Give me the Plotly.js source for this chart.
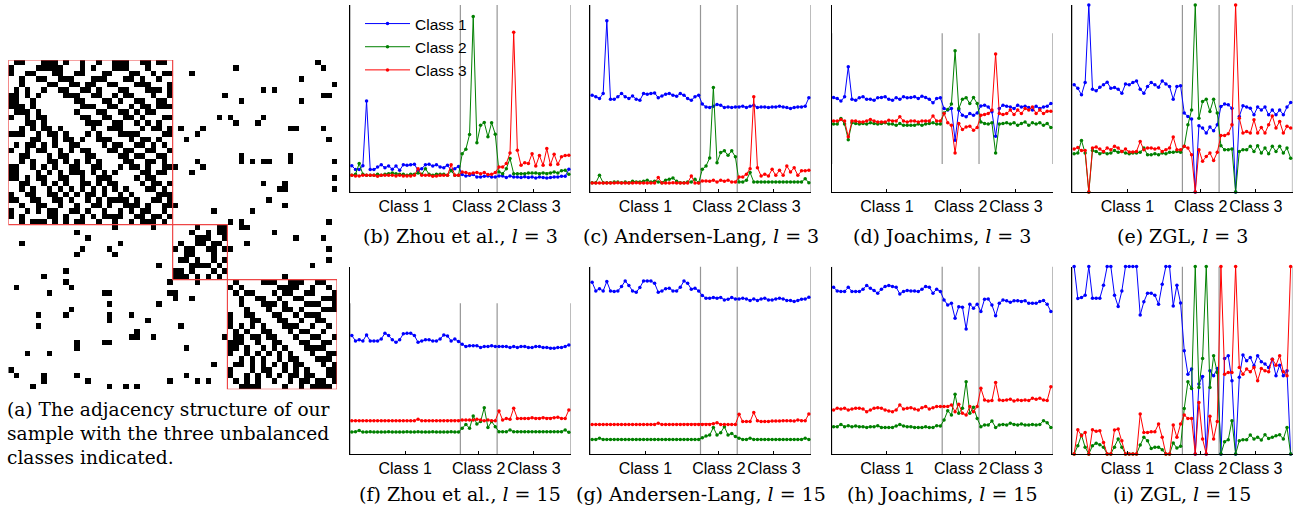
<!DOCTYPE html>
<html><head><meta charset="utf-8">
<script src="https://cdn.plot.ly/plotly-3.0.1.min.js"></script>
<style>html,body{margin:0;padding:0;background:#fff}#chart{width:1293px;height:506px}</style>
</head><body><div id="chart"></div>
<script>
// ---------------- data ----------------
const nodes = [1,2,3,4,5,6,7,8,9,10,11,12,13,14,15,16,17,18,19,20,21,22,23,24,25,26,27,28,29,30,
 31,32,33,34,35,36,37,38,39,40,41,42,43,44,45,46,47,48,49,50,51,52,53,54,55,56,57,58,59,60];
const classCenters = [15.5, 35.5, 50.5];
const classLabels = ['Class 1', 'Class 2', 'Class 3'];
const classBounds = [0.5, 30.5, 40.5, 60.5];
const seriesNames = ['Class 1', 'Class 2', 'Class 3'];

// (b) Zhou et al., l = 3
const zhouL3_class1 = [14,12,12,14,48.6,12,12,13.4,14.6,13,13.9,12.1,13.9,11.6,14.6,14.3,14.6,14.8,11.6,12.5,14.6,14.8,13.9,14.6,13.4,13,14.3,11.6,12.5,13.6, 9.3,8.6,8.9,9.3,8,8,8.4,8.6,8,8, 8.6,8.6,7.7,8.6,8,8,7.7,8.2,7.7,8,7.5,8,7.7,7.5,7.7,8,8,8.4,8.4,12.1];
const zhouL3_class2 = [8.9,9.5,15.2,9.5,8.9,8.9,8.9,9.5,8.9,9.5,9.8,10.2,9.8,9.5,9.5,8.9,9.5,9.5,10.2,9.5,12.5,9.5,8.9,9.5,9.5,9.5,8.9,11.3,8.9,8.9, 20.5,22.9,30.7,93.8,26.4,35.7,37.1,29.5,37,30.9, 10.7,9.8,12.5,17.9,9.8,9.8,9.8,9.8,10.2,10.2,10.2,9.8,10.2,9.8,10.2,10.7,10.2,11.3,11.6,9.5];
const zhouL3_class3 = [8.9,8.6,8.6,8.9,8.9,8.9,8.9,8.4,8.9,8.9,8.9,8.9,8.6,8.9,8.6,8.6,8.6,8.9,12.5,8.9,8.9,8.9,8.4,8.6,8.9,8.9,8.9,14.6,8.9,8.9, 10.7,10.4,9.8,10.2,10.4,9.8,10.4,9.3,9.5,10.4, 13.4,13.4,15.2,20.9,85.4,22.3,14.3,15.7,15.2,20.5,13.9,19.5,14.3,23.2,14.6,20.2,14.8,18.8,19.5,19.6];
// (c) Andersen-Lang, l = 3
const alL3_class1 = [51.8,50.9,50,52.7,91.6,49.6,49.6,50.9,52.7,50.9,50,51.4,49.6,49.1,52.7,52.3,52.7,53,50.4,51.4,52.3,52.7,51.8,51.2,52.7,51.8,50,49.1,50.9,51.8, 47,45.5,45.2,45.9,46.8,46.4,45.2,45.5,45.2,45.5, 45.5,45.9,45.2,45.9,46.4,45.2,45.5,45.5,45.2,45.5,45.5,45.9,45.5,45.2,44.6,45.2,45.5,45.5,45.9,50.4];
const alL3_class2 = [5,5,8.9,5,5,5,5.4,5.4,5,5.4,5,5.7,5.4,5.4,5.7,6.3,5.4,5.7,5.4,5,6.3,6.8,7.5,5.7,5,5,5.4,5.4,6.8,5, 12.1,13.9,18.2,55.9,15.7,21.1,22,19.6,22,18.8, 5.4,5.4,6.3,10.4,5.4,5.4,5.4,5.4,5.4,5.4,5.4,5.4,5.4,5.4,5.4,5.4,5.4,5.4,7.1,5];
const alL3_class3 = [4.8,4.8,4.8,4.8,4.8,4.8,4.8,5,4.8,4.8,4.8,4.8,5,4.8,4.8,4.8,4.8,4.8,7.7,4.8,4.8,4.8,5,4.8,4.8,4.8,4.8,8.6,4.8,4.8, 5.9,5.9,5.7,6.3,5.4,6.3,5.7,6.3,5.4,5.4, 8,8,9.5,12.5,50.9,13,8.6,9.5,8.6,12.1,8.9,11.6,8.9,13.9,10.7,13,8.9,11.3,11.3,11.6];
// (d) Joachims, l = 3
const joaL3_class1 = [50.5,50,48.6,50.9,67,49.6,49.1,50.4,50.9,49.6,49.6,49.1,50.4,50.5,50.9,49.6,49.1,50.4,49.6,50.9,50.4,50.5,50.9,50,51.2,50.5,49.6,47.7,50,50.4, 44.6,43.8,44.6,27.7,43.8,41.1,40.2,42,41.1,42.3, 46,46.4,45.5,42.9,29.8,44.6,46.4,45.9,45.5,44.6,46.4,45.5,45.9,45.2,43.8,45.9,44.6,45.5,45.9,47.3];
const joaL3_class2 = [36.3,36.3,39.3,36.3,28,37,36.6,36.3,36.6,36.3,37,36.6,36.3,36.6,37,36.3,36.3,35.7,36.6,35.7,35.7,35.7,35.7,36.3,35.7,36.3,36.6,37,36.3,36.3, 42.3,44.1,47,75.5,44.6,49.6,50.4,47.3,50.5,47.3, 37.5,36.6,36.3,37,20.9,36.3,36.6,37,36.3,37,35.7,36.6,37.5,35.7,37,36.3,37,35.7,36.6,34.5];
const joaL3_class3 = [38,38,38.8,38,29.5,38,38,37.5,37.5,38,38.8,38,37.5,37.5,37.5,38.4,38,38,40.2,38,37.5,38,38,37.5,38,38,38,40.7,38,38, 42,37,35.7,20.9,36.6,33.4,34.8,35.2,33,34.5, 41.1,41.4,42,43.8,73.8,42,41.4,42,43.8,41.4,43.8,42,44.6,43.8,45.5,42,43.8,42,43.2,43.2];
// (e) ZGL, l = 3
const zglL3_class1 = [57.3,55.5,52,58.5,100,55,54.1,56,57.3,58.7,55.5,55.9,55,52.8,57.8,57.3,58.5,59.4,55,52.8,56.4,58.5,57.3,56,59.4,57.8,56.4,49.6,56.4,56.8, 42.2,40.4,39,0,35.4,34.2,31.5,34.7,32.7,35.9, 45.7,47,46.6,44.8,0,40.4,46.1,45.4,44.8,41.3,45.4,43.9,45.4,41.3,43.9,41.3,43.9,41.3,45.4,47.9];
const zglL3_class2 = [20.5,20.8,27.6,20.8,0,22.2,21.7,20.5,21.2,20.5,20.8,22.2,21.2,21.7,20.8,20.5,20.8,20.8,21.2,23.5,19.9,19.9,20.5,19.9,20.8,20.5,21.2,21.2,21.7,21.2, 24.4,35.9,43.9,100,39.5,48.4,49.6,43.1,49.6,42.2, 24.7,22.6,22.6,23,0,21.7,22.6,22.6,24.4,21.7,24.7,20.8,23.5,20.5,24.4,21.7,24.4,20.8,23.5,18.1];
const zglL3_class3 = [23,23.8,22.2,22.2,0,23.5,24,23,21.7,23.5,22.6,24.4,23.5,21.7,23,21.4,21.4,21.7,27,22.6,23.5,23.5,23,23.5,21.7,22.6,23.5,29.4,22.6,22.6, 24.4,23.5,19.9,0,22.6,16.4,19,20.8,16.9,21.2, 30.2,30.2,31.1,35.9,100,39.5,31.5,32.4,31.5,38.6,31.5,34.5,31.5,35.9,40.7,34.2,37.7,31.5,35.1,34.2];
// (f) Zhou et al., l = 15
const zhouL15_class1 = [63.2,60.3,60.9,60.3,63.5,60.3,60.3,60.3,61.4,64.4,63.2,60.9,59.6,60.9,64.1,64.4,64.4,63.2,59.6,60.3,60.9,60.9,60.3,60.3,61.4,63.5,63,60.3,61.4,60, 58.5,57.3,57.8,57.8,57.8,56.8,57.3,57.3,57.8,57.3, 57.3,57.3,57.3,56.8,57.3,56.8,57.3,57.3,56.8,56.8,57.3,57.3,56.8,56.8,56.4,56.4,56.8,56.8,57.3,58.2];
const zhouL15_class2 = [11.7,11.9,12.5,11.7,11.7,11.9,11.7,11.7,11.7,11.7,11.9,11.7,11.7,11.7,11.7,11.9,11.7,11.7,11.9,11.7,11.7,11.7,11.9,11.7,11.7,11.7,11.7,11.9,11.7,11.7, 13.7,15.8,13.7,20.3,16,17.3,24.7,14.1,17.3,14.6, 11.9,11.9,11.9,12.8,11.9,11.9,11.9,11.9,11.9,11.9,11.9,11.9,11.9,11.9,11.9,11.9,11.9,11.9,12.8,11.6];
const zhouL15_class3 = [17.8,17.8,17.8,17.8,17.8,17.8,17.8,17.8,17.8,17.8,17.8,17.8,17.8,17.8,17.8,17.8,17.8,17.8,18.5,17.8,17.8,17.8,17.8,17.8,17.8,17.8,17.8,17.8,17.8,17.8, 18.1,18.1,18.1,18.1,18.5,18.1,17.8,18.1,17.8,17.8, 23,18.1,19,18.5,24.4,19,19,19,19,19.4,19,19,19.4,19,19,19.4,19.6,19,19,23.5];
// (g) Andersen-Lang, l = 15
const alL15_class1 = [91.6,87,88.1,87,92,87,86.7,87,89.3,92.3,89.9,87,86.3,88.8,92.3,92.3,92.3,91.1,86.3,87,88.1,88.4,87,87,88.9,92.3,91.1,87.9,88.4,87, 84.5,83.1,83.1,83.5,83.1,83.5,82.2,82.6,83.5,82.7, 82.7,83.1,82.7,81.9,82.7,81.9,82.7,83.1,82.2,82.2,82.7,83.1,82.7,81.9,81.9,81.3,81.9,82.6,82.7,83.6];
const alL15_class2 = [7.8,7.8,8.4,7.8,7.8,7.8,7.8,7.8,7.8,7.8,7.8,7.8,7.8,7.8,7.8,7.8,7.8,7.8,7.8,7.8,7.8,7.8,7.8,7.8,7.8,7.8,7.8,7.8,7.8,7.8, 8.7,9.6,10.1,14.1,10.1,11.4,14.6,10.1,11,9.3, 8.4,7.8,7.8,8.4,7.8,7.8,7.8,7.8,7.8,7.8,7.8,7.8,7.8,7.8,7.8,7.8,7.8,7.8,8.4,7.8];
const alL15_class3 = [15.8,15.8,15.8,15.8,15.8,15.8,15.8,15.8,15.8,15.8,15.8,15.8,15.8,15.8,15.8,15.8,15.8,15.8,16.4,15.8,15.8,15.8,15.8,15.8,15.8,15.8,15.8,15.8,15.8,15.8, 15.8,15.8,15.8,16.2,16.7,15.8,15.8,15.8,15.8,15.8, 21.2,17.3,17.3,17.3,22.1,17.8,17.3,17.3,17.3,17.6,17.6,17.6,17.8,17.8,17.8,17.6,18.1,17.8,17.8,21.4];
// (h) Joachims, l = 15
const joaL15_class1 = [88.9,87,86.7,86.7,88.9,86.7,86.7,86.7,87.9,89.9,88.4,87.2,85.8,87.9,89.3,89.9,89.3,88.9,85.4,86.7,87.2,87,87,86.7,87.9,89.3,88.9,85.8,87.9,86.7, 82.2,79.5,80.4,72.4,78.6,78.3,66.7,79.9,77.8,79.9, 76,82.6,82.7,79.5,73.7,80.4,82.2,81.7,81,81.7,81.7,81.3,81.7,80.4,80.4,80.4,81.3,81.9,79.9,76];
const joaL15_class2 = [14.6,14.6,15.8,14.6,15.1,14.6,14.9,14.6,14.6,14.2,14.6,14.6,15.1,14.2,14.1,14.1,14.2,14.9,15.8,14.9,14.6,14.6,14.2,14.2,14.2,14.6,14.2,14.1,15.1,14.9, 18.1,23.1,20.8,31.9,21.7,24.4,38.6,21.7,24.9,19, 14.6,15.5,15.5,17.6,14.2,15.5,15.8,15.5,16.4,15.8,15.5,16,15.5,15.5,15.8,15.5,15.8,17.8,16.7,14.2];
const joaL15_class3 = [23.5,24.4,24,24.4,23.5,24,24.4,24.4,24,22.6,23.5,24.4,24.7,24.4,23.5,23,22.6,23.5,26.2,24,24.4,24.7,24,23.5,24.7,25.3,24,24.7,25.3,25.3, 25.3,25.3,26.2,22.6,26.5,21.7,20.8,25.3,22.6,25.3, 35.1,28.8,28.3,28.5,38.1,28.8,28.5,28.8,29.2,28.3,28.8,28.5,28.8,28.5,29.7,29.2,29.7,28.8,28.5,35.9];
// (i) ZGL, l = 15
const zglL15_class1 = [100,83,83.5,84.7,100,83.1,83.1,83.1,90,100,100,84.7,78.7,87,100,100,100,100,74.1,81.2,85.8,85.8,84.7,79.9,90.6,100,100,79,90,80.5, 55.1,42.6,45.3,0,37.3,41.4,0,44.4,41.7,45.6, 0,51,52.4,39.1,0,40.9,52.8,49.7,51.5,47.1,52.4,49.2,48,46.2,50.6,41.7,47.4,41.7,44.4,0];
const zglL15_class2 = [0,4.4,10.1,3.6,0,4.4,5.7,5,3.6,0,0,3.6,8,3.6,0,0,0,0,4.8,8.9,7.1,3,3.6,3.6,2.3,0,0,5.9,3.2,4.1, 24.3,38.5,35,100,35.5,51,100,35.5,52.4,43.5, 0,6.6,7.6,17.8,0,7.1,7.6,7.6,10.1,8,8.9,7.5,10.3,8.3,8.9,9.8,10.3,8,14.2,0];
const zglL15_class3 = [0,13,9.8,11.5,0,13,12.1,12.4,6.2,0,0,12.8,13.3,7.1,0,0,0,0,21.3,11.5,11.5,11.9,11.9,16,8.9,0,0,15.5,8.9,16, 20.8,19,19,0,27.5,8,0,20.1,8,17.4, 100,42.6,43.5,43.5,100,46.2,42.6,45.3,43.9,46.2,39.1,45.6,44.4,43.9,50.6,47.4,52.4,43.9,41.7,100];

// adjacency matrix (a): class sizes, within-class blocks (upper triangle read, mirrored), cross-class edges
const classSizes = [30, 10, 20];
const block1Rows = [
"011000111010010010011100110110","100001111100010100011100010000","100110001100110001100011001011",
"000001100111000111000110100100","001000011001101100110001110001","010100100110011010001100011101",
"111001000011100110010110001001","111001100000110001101001100110","011011010000011100110010110111",
"010100100000100011001101011000","101001101100011001100110100011","000101000101001110011001010100",
"001010110010000100111000101101","110010100011001010001111000011","001101101010010011100010110100",
"000011000011100001011001101010","111100011010101000110110011001","000101101100011100001101100110",
"001110110011101101000110011010","101001100110010111001011010011","100010111010101100110000110110",
"110100000101110010110001011000","000001101110011110001000101101","100110000110100001110011011010",
"001010100001011010001001100111","101100011111000011010110001101","010100100000111100100001110011",
"100101010101101101011110100010","100001011010010010101011000101","001011101010110010010010111010"];
const block2Rows = ["0000100011","0001001011","0100111001","1100110110","1011001101",
"0011000100","1101000101","1000111010","1101010101","1010011010"];
const block3Rows = [
"01000011100111001100","10100000011110010010","01011000101100110001","00100110010011000111",
"00100011101000111001","00010001001101000111","10011000110010111000","10001100011001001100",
"10101010001110010010","01010011000101100100","11101101100010011001","11100100110001100110",
"11010010101000111100","10010101010100010011","00101010010110001110","00101010101011000101",
"10001011001010100011","10010101010110110011","00010100100101101101","00111100001001011110"];
const crossEdges = [[0,56],[1,41],[1,57],[2,33],[3,53],[4,59],[5,46],[5,48],[6,39],[6,57],[6,58],
[7,42],[7,53],[10,38],[10,40],[10,46],[11,41],[11,45],[12,31],[12,35],[12,51],[12,52],[12,57],
[13,34],[14,32],[14,58],[17,42],[17,51],[18,34],[18,42],[18,44],[18,46],[18,47],[18,51],[18,59],
[19,30],[19,35],[20,33],[21,59],[22,46],[22,50],[23,49],[23,50],[23,59],[25,47],[26,30],[26,50],
[27,37],[27,44],[29,40],[29,42],[29,58],[30,42],[30,43],[31,48],[32,52],[32,57],[33,43],[34,40],
[34,58],[36,58],[37,55],[39,50]];

// ---------------- build ----------------
function buildAdjacency() {
  const n = classSizes.reduce((a, b) => a + b, 0);
  const z = [];
  for (let r = 0; r < n; r++) z.push(new Array(n).fill(0));
  const blocks = [[0, block1Rows], [classSizes[0], block2Rows], [classSizes[0] + classSizes[1], block3Rows]];
  blocks.forEach(([off, rows]) => {
    rows.forEach((s, r) => {
      for (let c = r + 1; c < s.length; c++) {
        if (s[c] === '1') { z[off + r][off + c] = 1; z[off + c][off + r] = 1; }
      }
    });
  });
  crossEdges.forEach(([r, c]) => { z[r][c] = 1; z[c][r] = 1; });
  return z;
}

const W = 1293, H = 506;
const fx = p => p / W;
const fy = p => 1 - p / H;

const panels = [
  {data: [zhouL3_class1, zhouL3_class2, zhouL3_class3], left: 350, right: 570.7, top: 5, bottom: 192, cap: '(b) Zhou et al., <i>l</i> = 3', capY: 236, sep: [0, 100]},
  {data: [alL3_class1, alL3_class2, alL3_class3], left: 590.3, right: 810.7, top: 5, bottom: 192, cap: '(c) Andersen-Lang, <i>l</i> = 3', capY: 236, sep: [0, 100]},
  {data: [joaL3_class1, joaL3_class2, joaL3_class3], left: 831.7, right: 1052.7, top: 5, bottom: 192, cap: '(d) Joachims, <i>l</i> = 3', capY: 236, sep: [15, 84.9]},
  {data: [zglL3_class1, zglL3_class2, zglL3_class3], left: 1072.3, right: 1292.5, top: 5, bottom: 192, cap: '(e) ZGL, <i>l</i> = 3', capY: 236, sep: [0, 100]},
  {data: [zhouL15_class1, zhouL15_class2, zhouL15_class3], left: 350, right: 570.7, top: 266.5, bottom: 454, cap: '(f) Zhou et al., <i>l</i> = 15', capY: 494, sep: [0, 80.4]},
  {data: [alL15_class1, alL15_class2, alL15_class3], left: 590.3, right: 810.7, top: 266.5, bottom: 454, cap: '(g) Andersen-Lang, <i>l</i> = 15', capY: 494, sep: [0, 100]},
  {data: [joaL15_class1, joaL15_class2, joaL15_class3], left: 831.7, right: 1052.7, top: 266.5, bottom: 454, cap: '(h) Joachims, <i>l</i> = 15', capY: 494, sep: [0, 100]},
  {data: [zglL15_class1, zglL15_class2, zglL15_class3], left: 1072.3, right: 1292.5, top: 266.5, bottom: 454, cap: '(i) ZGL, <i>l</i> = 15', capY: 494, sep: [0, 100]}
];
const colors = ['rgb(0,0,255)', 'rgb(0,128,0)', 'rgb(255,0,0)'];
const serif = 'DejaVu Serif, serif';
const sans = 'Liberation Sans, Arial, sans-serif';

const traces = [];
const layout = {
  width: W, height: H, margin: {l: 0, r: 0, t: 0, b: 0},
  paper_bgcolor: '#fff', plot_bgcolor: 'rgba(0,0,0,0)',
  showlegend: true,
  legend: {x: fx(360), y: fy(7), xanchor: 'left', yanchor: 'top', bgcolor: 'rgba(0,0,0,0)',
           font: {family: sans, size: 15.5, color: '#000'}, tracegroupgap: 0, itemwidth: 45},
  shapes: [], annotations: []
};

// heatmap
traces.push({type: 'heatmap', z: buildAdjacency(), xaxis: 'x', yaxis: 'y', showscale: false,
  colorscale: [[0, '#ffffff'], [1, '#000000']], zmin: 0, zmax: 1, hoverinfo: 'skip'});
layout.xaxis = {domain: [fx(8.3), fx(337)], range: [-0.5, 59.5], visible: false, anchor: 'y'};
layout.yaxis = {domain: [fy(389.3), fy(60)], range: [59.5, -0.5], visible: false, anchor: 'x'};
let start = 0;
classSizes.forEach(s => {
  layout.shapes.push({type: 'rect', xref: 'x', yref: 'y', x0: start - 0.5, x1: start + s - 0.5,
    y0: start - 0.5, y1: start + s - 0.5, line: {color: 'rgb(238,70,70)', width: 1.2}, fillcolor: 'rgba(0,0,0,0)'});
  start += s;
});
['(a) The adjacency structure of our', 'sample with the three unbalanced', 'classes indicated.'].forEach((t, k) => {
  layout.annotations.push({text: t, xref: 'paper', yref: 'paper', x: fx(5), y: fy(409 + 24 * k),
    xanchor: 'left', yanchor: 'middle', showarrow: false, font: {family: serif, size: 18.6, color: '#000'}});
});

panels.forEach((p, k) => {
  const n = k + 2;
  const xa = 'x' + n, ya = 'y' + n;
  p.data.forEach((vals, j) => {
    traces.push({type: 'scatter', mode: 'lines+markers', x: nodes, y: vals, xaxis: xa, yaxis: ya,
      name: seriesNames[j], showlegend: k === 0, cliponaxis: false,
      line: {color: colors[j], width: 1}, marker: {color: colors[j], size: 3.5}});
  });
  layout['xaxis' + n] = {domain: [fx(p.left), fx(p.right)], range: [0.5, 60.5], anchor: ya,
    showgrid: false, zeroline: false, showline: true, linecolor: '#000', linewidth: 1,
    tickmode: 'array', tickvals: classCenters, ticktext: classLabels, ticks: 'inside', ticklen: 3,
    tickangle: 0, tickcolor: '#000', tickfont: {family: sans, size: 16, color: '#000'}};
  layout['yaxis' + n] = {domain: [fy(p.bottom), fy(p.top)], range: [0, 100], anchor: xa,
    showgrid: false, zeroline: false, showline: true, linecolor: '#000', linewidth: 1,
    showticklabels: false, ticks: ''};
  classBounds.forEach(b => {
    layout.shapes.push({type: 'line', xref: xa, yref: ya, x0: b, x1: b, y0: p.sep[0], y1: p.sep[1],
      line: {color: 'rgb(150,150,150)', width: 1.2}, layer: 'below'});
  });
  layout.annotations.push({text: p.cap, xref: 'paper', yref: 'paper', x: fx((p.left + p.right) / 2),
    y: fy(p.capY), xanchor: 'center', yanchor: 'middle', showarrow: false,
    font: {family: serif, size: 19, color: '#000'}});
});

Plotly.newPlot('chart', traces, layout, {staticPlot: true});
</script></body></html>
